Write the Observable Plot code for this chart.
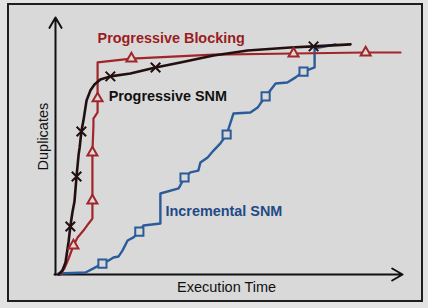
<!DOCTYPE html>
<html>
<head>
<meta charset="utf-8">
<script src="https://cdn.jsdelivr.net/npm/d3@7"></script>
<script src="https://cdn.jsdelivr.net/npm/@observablehq/plot@0.6"></script>
<style>
  html, body { margin: 0; padding: 0; background: #e3e3e3; }
  #wrap { position: relative; width: 428px; height: 308px; overflow: hidden; }
  #panel {
    position: absolute; left: 7px; top: 3px; width: 412px; height: 295px;
    border: 2px solid #1e1e1e; background: #d9d9d9;
  }
  #chart { position: absolute; left: 0; top: 0; }
  #chart svg { background: transparent; }
</style>
</head>
<body>
<div id="wrap"><div id="panel"></div><div id="chart"></div></div>
<script>
// Cumulative duplicates found over execution time (both in % of run / total)

const snmTime = [0.9, 2.0, 2.9, 3.8, 4.3, 4.9, 5.5, 6.1, 6.7, 7.0, 7.5, 8.1, 9.0, 10.1, 11.3, 13.0, 15.9, 21.7, 29.0, 36.2, 45.8, 55.7, 68.1, 74.8, 85.5];
const snmDup  = [0.0, 1.6, 4.7, 13.0, 18.9, 24.4, 28.7, 38.6, 47.2, 50.0, 56.3, 60.6, 68.5, 72.4, 74.8, 76.8, 78.0, 79.1, 81.5, 83.5, 86.2, 88.2, 89.4, 89.8, 90.6];
const snmMarkTime = [4.3, 6.1, 7.5, 15.9, 29.0, 74.8];
const snmMarkDup  = [18.9, 38.6, 56.3, 78.0, 81.5, 89.8];

const blockTime = [1.4, 2.6, 3.8, 5.2, 6.4, 8.1, 9.6, 10.7, 10.7, 10.7, 11.0, 11.0, 12.2, 12.2, 12.2, 22.0, 45.8, 69.0, 89.9, 100.0];
const blockDup  = [0.0, 2.4, 6.3, 11.4, 14.6, 17.3, 20.1, 22.0, 29.1, 48.0, 58.7, 61.4, 63.8, 69.3, 83.5, 85.0, 86.6, 87.0, 87.4, 87.4];
const blockMarkTime = [5.2, 10.7, 10.7, 12.2, 22.0, 69.0, 89.9];
const blockMarkDup  = [11.4, 29.1, 48.0, 69.3, 85.0, 87.0, 87.4];

const incTime = [0.9, 8.7, 11.0, 13.6, 15.4, 16.8, 18.3, 19.4, 20.9, 22.6, 24.3, 25.5, 30.4, 30.4, 35.7, 37.4, 39.1, 41.4, 42.0, 44.1, 45.8, 47.8, 49.6, 51.6, 56.5, 58.6, 59.4, 60.9, 63.8, 67.2, 69.6, 71.9, 75.1, 75.1, 76.8, 81.2];
const incDup  = [0.4, 0.8, 2.4, 4.3, 5.5, 6.7, 7.1, 9.4, 13.4, 14.6, 16.9, 19.3, 20.1, 31.9, 33.9, 38.2, 40.2, 40.9, 44.1, 46.1, 48.8, 51.6, 55.1, 63.4, 63.8, 65.7, 67.3, 70.1, 75.2, 75.6, 77.6, 79.9, 81.5, 89.0, 89.4, 90.6];
const incMarkTime = [13.6, 24.3, 37.4, 49.6, 60.9, 71.9];
const incMarkDup  = [4.3, 16.9, 38.2, 55.1, 70.1, 79.9];

const seriesNames = ["Progressive Blocking", "Progressive SNM", "Incremental SNM"];
const axisTitles = ["Execution Time", "Duplicates"];

const RED = "#a2252a", DARK = "#221010", BLUE = "#2b5b98", BG = "#d9d9d9";

const pts = (xs, ys) => xs.map((x, i) => ({x, y: ys[i]}));

const chart = Plot.plot({
  width: 428,
  height: 308,
  marginLeft: 55,
  marginRight: 28,
  marginTop: 20,
  marginBottom: 34,
  x: {domain: [0, 100], axis: null},
  y: {domain: [0, 100], axis: null},
  style: {fontFamily: "'Liberation Sans', Arial, sans-serif", background: "transparent"},
  marks: [
    // axes with arrowheads
    Plot.arrow([{x1: 0, y1: 0, x2: 0, y2: 101.2}], {x1: "x1", y1: "y1", x2: "x2", y2: "y2", stroke: "#111", strokeWidth: 2, headLength: 9, bend: 0}),
    Plot.arrow([{x1: -0.3, y1: 0, x2: 100.6, y2: 0}], {x1: "x1", y1: "y1", x2: "x2", y2: "y2", stroke: "#111", strokeWidth: 2, headLength: 9, bend: 0}),

    // series lines
    Plot.line(pts(incTime, incDup), {x: "x", y: "y", stroke: BLUE, strokeWidth: 2.4}),
    Plot.line(pts(blockTime, blockDup), {x: "x", y: "y", stroke: RED, strokeWidth: 2.2}),
    Plot.line(pts(snmTime, snmDup), {x: "x", y: "y", stroke: DARK, strokeWidth: 2.6}),

    // markers
    Plot.dot(pts(incMarkTime, incMarkDup), {x: "x", y: "y", symbol: "square", r: 4.6, fill: BG, stroke: BLUE, strokeWidth: 2}),
    Plot.dot(pts(blockMarkTime, blockMarkDup), {x: "x", y: "y", symbol: "triangle", r: 3.7, fill: BG, stroke: RED, strokeWidth: 2}),
    Plot.dot(pts(snmMarkTime, snmMarkDup), {x: "x", y: "y", symbol: "times", r: 4.4, stroke: DARK, strokeWidth: 2}),

    // series labels
    Plot.text([seriesNames[0]], {x: 12.2, y: 93.1, text: d => d, textAnchor: "start", fill: "#9a1d22", fontSize: 14.4, fontWeight: "bold"}),
    Plot.text([seriesNames[1]], {x: 15.4, y: 70.3, text: d => d, textAnchor: "start", fill: "#111", fontSize: 14.4, fontWeight: "bold"}),
    Plot.text([seriesNames[2]], {x: 31.9, y: 25.0, text: d => d, textAnchor: "start", fill: "#1f4a86", fontSize: 14.4, fontWeight: "bold"}),

    // axis titles
    Plot.text([axisTitles[0]], {x: 49.6, y: -4.9, text: d => d, fill: "#111", fontSize: 14.5}),
    Plot.text([axisTitles[1]], {x: -3.6, y: 54.3, text: d => d, rotate: -90, fill: "#111", fontSize: 14.5})
  ]
});

document.getElementById("chart").appendChild(chart);
</script>
</body>
</html>
